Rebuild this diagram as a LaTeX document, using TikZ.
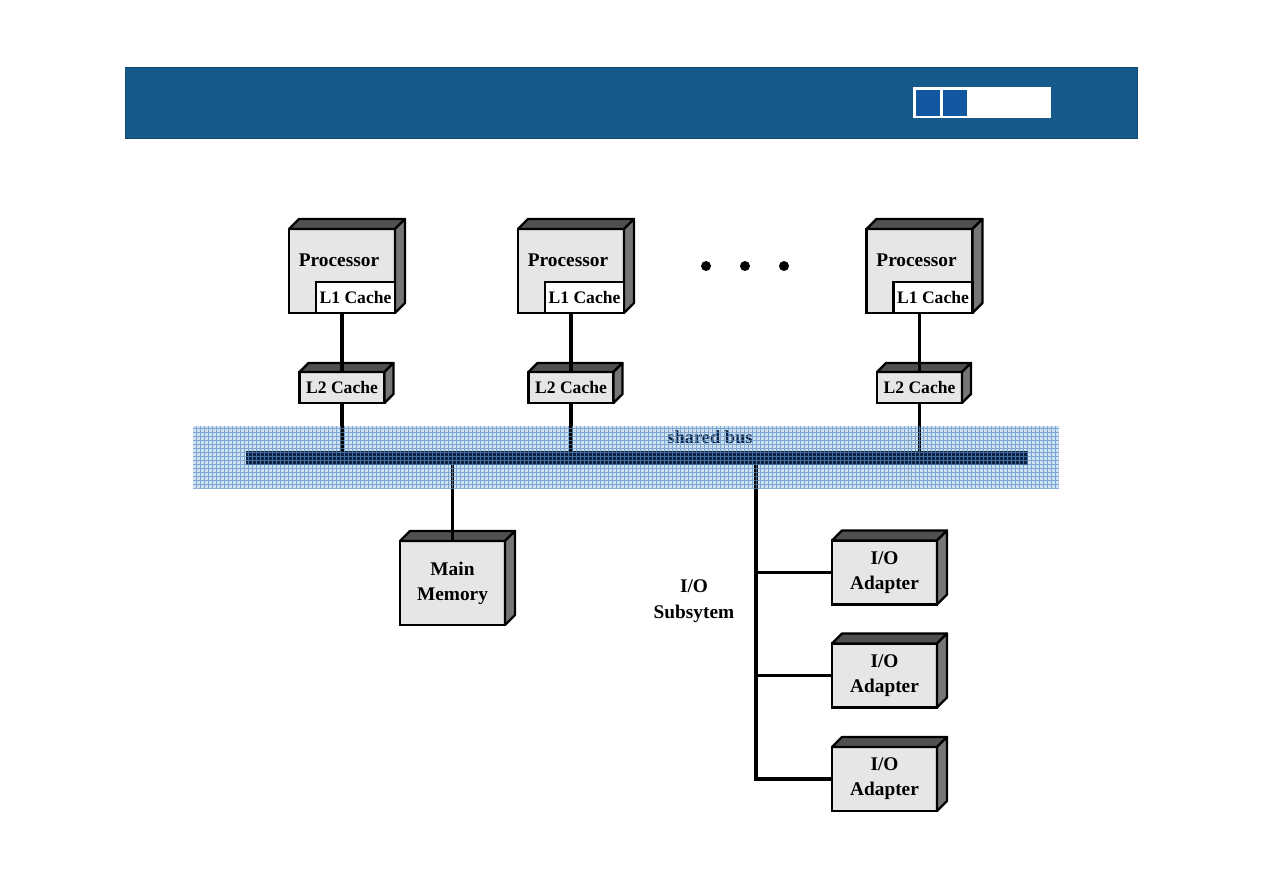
\documentclass[tikz,border=0pt]{standalone}
\usepackage{fontspec}
\setmainfont{Liberation Serif}
\usetikzlibrary{calc}
\definecolor{hdr}{HTML}{155A8A}
\definecolor{hdrsq}{HTML}{1158A0}
\definecolor{boxgray}{HTML}{E6E6E6}
\definecolor{topgray}{HTML}{505050}
\definecolor{sidegray}{HTML}{767676}
\definecolor{busfill}{HTML}{CFE0F1}
\definecolor{busgrid}{HTML}{5B8EC4}
\definecolor{busbar}{HTML}{0B2142}
\newcommand\depthfaces[2]{%
  \filldraw[facetop] (#1.north west) -- ++(#2,-#2) -- ($(#1.north east)+(#2,-#2)$) -- (#1.north east) -- cycle;
  \filldraw[faceside] (#1.north east) -- ++(#2,-#2) -- ($(#1.south east)+(#2,-#2)$) -- (#1.south east) -- cycle;}
\begin{document}
\begin{tikzpicture}[x=0.02cm,y=-0.02cm,
  box/.style={draw=black, line width=1.5pt, fill=boxgray, inner sep=0pt, outer sep=0pt, align=center,
    font=\bfseries\fontsize{11}{14.2}\selectfont},
  cachebox/.style={box, minimum width=1.7cm, minimum height=0.62cm, font=\bfseries\fontsize{10}{12}\selectfont},
  l1box/.style={cachebox, fill=white, minimum width=1.58cm},
  procbox/.style={box, minimum width=2.12cm, minimum height=1.68cm},
  iobox/.style={box, minimum width=2.1cm, minimum height=1.28cm},
  lbl/.style={inner sep=0pt, align=center, font=\bfseries\fontsize{11}{14.6}\selectfont},
  facetop/.style={draw=black, line width=1.3pt, line join=round, fill=topgray},
  faceside/.style={draw=black, line width=1.3pt, line join=round, fill=sidegray},
  conn/.style={draw=black, line width=1.8pt},
  dot/.style={circle, fill=black, inner sep=0pt, minimum size=0.2cm}]
\useasboundingbox (0,0) rectangle (1263,893);
\fill[white] (0,0) rectangle (1263,893);
% header
\node[draw=hdr!80!black, line width=0.5pt, fill=hdr, minimum width=20.26cm, minimum height=1.42cm, inner sep=0pt] (hdr) at (631.5,102.5) {};
\node[draw=white, line width=0.8pt, fill=white, minimum width=2.72cm, minimum height=0.58cm, inner sep=0pt] (hbox) at (982,102.5) {};
\node[fill=hdrsq, minimum width=0.48cm, minimum height=0.52cm, inner sep=0pt] (hsq1) at (928,102.5) {};
\node[fill=hdrsq, minimum width=0.48cm, minimum height=0.52cm, inner sep=0pt] (hsq2) at (954.5,102.5) {};
% bus area
\node[fill=busfill, minimum width=17.32cm, minimum height=1.24cm, inner sep=0pt] (busarea) at (626,457) {};
% processors
\node[procbox] (pa) at (342,271) {};
\node[procbox] (pb) at (571,271) {};
\node[procbox] (pc) at (919.5,271) {};
\depthfaces{pa}{10}\depthfaces{pb}{10}\depthfaces{pc}{10}
\node[l1box, anchor=south east] (l1a) at (pa.south east) {L1 Cache};
\node[l1box, anchor=south east] (l1b) at (pb.south east) {L1 Cache};
\node[l1box, anchor=south east] (l1c) at (pc.south east) {L1 Cache};
\node[lbl] (pta) at (339,260) {Processor};
\node[lbl] (ptb) at (568,260) {Processor};
\node[lbl] (ptc) at (916.5,260) {Processor};
% dots
\node[dot] (d1) at (706,266) {};
\node[dot] (d2) at (745,266) {};
\node[dot] (d3) at (784,266) {};
% L2 caches
\node[cachebox] (l2a) at (342,387.5) {L2 Cache};
\node[cachebox] (l2b) at (571,387.5) {L2 Cache};
\node[cachebox] (l2c) at (919.5,387.5) {L2 Cache};
\depthfaces{l2a}{9}\depthfaces{l2b}{9}\depthfaces{l2c}{9}
% bus bar
\node[fill=busbar, minimum width=15.64cm, minimum height=0.28cm, inner sep=0pt] (bus) at (637,458) {};
\node[lbl, text=busbar, font=\bfseries\fontsize{10.5}{12}\selectfont] (buslbl) at (710,437) {shared bus};
% connectors
\draw[conn] (pa.south) -- (l2a.north);
\draw[conn] (pb.south) -- (l2b.north);
\draw[conn] (pc.south) -- (l2c.north);
\draw[conn] (l2a.south) -- (l2a.south |- bus.north);
\draw[conn] (l2b.south) -- (l2b.south |- bus.north);
\draw[conn] (l2c.south) -- (l2c.south |- bus.north);
% main memory
\node[procbox, minimum width=2.1cm] (mem) at (452.5,583) {Main\\Memory};
\depthfaces{mem}{10}
\draw[conn] (mem.north) -- (mem.north |- bus.south);
% I/O
\node[iobox] (io1) at (884.5,572.5) {I/O\\Adapter};
\node[iobox] (io2) at (884.5,675.5) {I/O\\Adapter};
\node[iobox] (io3) at (884.5,779) {I/O\\Adapter};
\depthfaces{io1}{10}\depthfaces{io2}{10}\depthfaces{io3}{10}
\coordinate (iob) at (756,779);
\draw[conn] (iob |- bus.south) -- (iob) -- (io3.west);
\draw[conn] (iob |- io1.west) -- (io1.west);
\draw[conn] (iob |- io2.west) -- (io2.west);
\node[lbl] (iosub) at (694,601) {I/O\\Subsytem};
% bus grid overlay
\draw[busgrid, line width=0.4pt, opacity=0.7, step=0.08cm] (busarea.south west) grid (busarea.north east);
\end{tikzpicture}
\end{document}
